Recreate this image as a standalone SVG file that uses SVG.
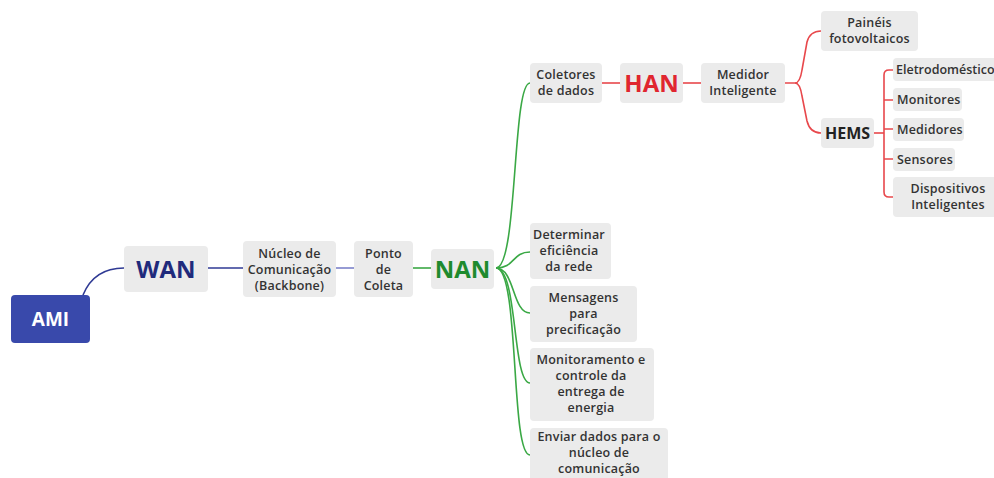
<svg xmlns="http://www.w3.org/2000/svg" width="994" height="478" viewBox="0 0 994 478">
<style>
.bx{fill:#ebebeb}
.t{font-family:"Open Sans","Liberation Sans",sans-serif;font-size:12.5px;font-weight:600;letter-spacing:0.2px;fill:#333;text-anchor:middle}
.tl{text-anchor:start}
.big{font-family:"Open Sans","Liberation Sans",sans-serif;font-size:24px;font-weight:700;text-anchor:middle}
.ln{fill:none;stroke-width:1.6}
.b1{stroke:#2f3a94}
.b2{stroke:#7b82c9}
.g{stroke:#3aa845}
.r{stroke:#e8484c}
</style>
<rect width="994" height="478" fill="#fff"/>
<g id="connectors">
<path class="ln b1" d="M83,295 C90,278 102,268 124,268"/>
<path class="ln b1" d="M208,268 H243"/>
<path class="ln b2" d="M336,268 H354"/>
<path class="ln g" d="M413,268 H432"/>
<path class="ln g" d="M496,268 C518,268 512,83 530,83"/>
<path class="ln g" d="M496,268 C515,268 512,252 530,252"/>
<path class="ln g" d="M496,268 C515,268 512,313 530,313"/>
<path class="ln g" d="M496,268 C518,268 512,383 530,383"/>
<path class="ln g" d="M496,268 C520,268 510,455 530,455"/>
<path class="ln r" d="M602,83 H621"/>
<path class="ln r" d="M683,83 H702"/>
<path class="ln r" d="M785,83 H795 Q800,83 802,70 L807,42 Q810,31 821,31"/>
<path class="ln r" d="M795,83 Q800,83 802,96 L807,121 Q810,133 821,133"/>
<path class="ln r" d="M874,133 H884"/>
<path class="ln r" d="M893,70 H889 Q884,70 884,75 V192 Q884,197 889,197 H893"/>
<path class="ln r" d="M884,100 H893 M884,129 H893 M884,159 H893"/>
</g>
<g id="ami"><rect x="11" y="295" width="79" height="48" rx="4" fill="#3949ab"/><text class="big" x="50.5" y="326" style="font-size:19px;fill:#fff">AMI</text></g>
<g id="wan"><rect class="bx" x="124" y="246" width="84" height="46" rx="4"/><text class="big" x="166" y="278" fill="#1f2a7c">WAN</text></g>
<g id="nucleo"><rect class="bx" x="243" y="241" width="93" height="56" rx="4"/><text class="t" x="289.5" y="258">Núcleo de</text><text class="t" x="289.5" y="274">Comunicação</text><text class="t" x="289.5" y="290">(Backbone)</text></g>
<g id="ponto"><rect class="bx" x="354" y="241" width="59" height="56" rx="4"/><text class="t" x="383.5" y="258">Ponto</text><text class="t" x="383.5" y="274">de</text><text class="t" x="383.5" y="290">Coleta</text></g>
<g id="nan"><rect class="bx" x="431" y="249" width="63" height="40" rx="4"/><text class="big" x="462.5" y="278" fill="#1e8a2e">NAN</text></g>
<g id="coletores"><rect class="bx" x="530" y="63" width="72" height="40" rx="4"/><text class="t" x="566" y="79">Coletores</text><text class="t" x="566" y="95">de dados</text></g>
<g id="han"><rect class="bx" x="620" y="63" width="63" height="40" rx="4"/><text class="big" x="651.5" y="92" fill="#e0262f">HAN</text></g>
<g id="medidor"><rect class="bx" x="701" y="63" width="84" height="40" rx="4"/><text class="t" x="743" y="79">Medidor</text><text class="t" x="743" y="95">Inteligente</text></g>
<g id="paineis"><rect class="bx" x="821" y="11" width="97" height="40" rx="4"/><text class="t" x="869.5" y="27">Painéis</text><text class="t" x="869.5" y="43">fotovoltaicos</text></g>
<g id="hems"><rect class="bx" x="821" y="118" width="53" height="30" rx="4"/><text class="big" x="847.5" y="139" style="font-size:16px;fill:#222">HEMS</text></g>
<g id="eletro"><rect class="bx" x="893" y="58" width="110" height="23" rx="4"/><text class="t tl" x="896" y="74" style="letter-spacing:0">Eletrodoméstico</text></g>
<g id="monitores"><rect class="bx" x="893" y="88" width="69" height="23" rx="4"/><text class="t tl" x="897" y="104">Monitores</text></g>
<g id="medidores"><rect class="bx" x="893" y="118" width="71" height="23" rx="4"/><text class="t tl" x="897" y="134">Medidores</text></g>
<g id="sensores"><rect class="bx" x="893" y="148" width="62" height="23" rx="4"/><text class="t tl" x="897" y="164">Sensores</text></g>
<g id="dispositivos"><rect class="bx" x="893" y="177" width="105" height="40" rx="4"/><text class="t" x="948" y="193">Dispositivos</text><text class="t" x="948" y="209">Inteligentes</text></g>
<g id="determinar"><rect class="bx" x="530" y="223" width="81" height="56" rx="4"/><text class="t" x="569" y="239">Determinar</text><text class="t" x="569" y="255">eficiência</text><text class="t" x="569" y="271">da rede</text></g>
<g id="mensagens"><rect class="bx" x="530" y="286" width="107" height="56" rx="4"/><text class="t" x="583.5" y="302">Mensagens</text><text class="t" x="583.5" y="318">para</text><text class="t" x="583.5" y="334">precificação</text></g>
<g id="monitoramento"><rect class="bx" x="530" y="348" width="124" height="73" rx="4"/><text class="t" x="591" y="364">Monitoramento e</text><text class="t" x="591" y="380">controle da</text><text class="t" x="591" y="396">entrega de</text><text class="t" x="591" y="412">energia</text></g>
<g id="enviar"><rect class="bx" x="530" y="428" width="138" height="56" rx="4"/><text class="t" x="599" y="441">Enviar dados para o</text><text class="t" x="599" y="457">núcleo de</text><text class="t" x="599" y="473">comunicação</text></g>
</svg>
